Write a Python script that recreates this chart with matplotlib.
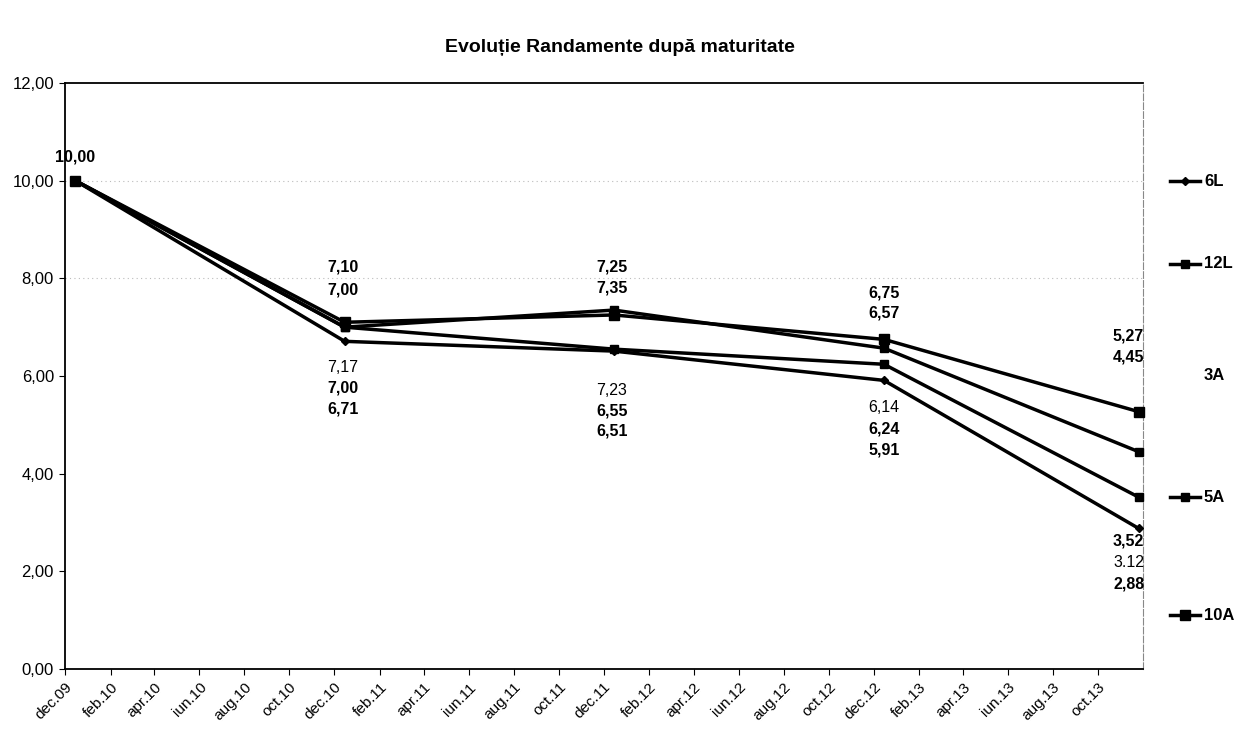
import matplotlib
matplotlib.use("Agg")
import matplotlib.pyplot as plt
from matplotlib.lines import Line2D
import datetime as dt

plt.rcParams['font.family'] = ['Liberation Sans', 'DejaVu Sans']

# ---- data ----
dates = ["2009-12-15", "2010-12-15", "2011-12-15", "2012-12-15", "2013-11-25"]
s_6L = [10.00, 6.71, 6.51, 5.91, 2.88]
s_12L = [10.00, 7.00, 7.35, 6.57, 4.45]
s_3A = [10.00, 7.17, 7.23, 6.14, 3.12]
s_5A = [10.00, 7.00, 6.55, 6.24, 3.52]
s_10A = [10.00, 7.10, 7.25, 6.75, 5.27]
series_names = ["6L", "12L", "3A", "5A", "10A"]
tick_labels = ["dec.09", "feb.10", "apr.10", "iun.10", "aug.10", "oct.10",
               "dec.10", "feb.11", "apr.11", "iun.11", "aug.11", "oct.11",
               "dec.11", "feb.12", "apr.12", "iun.12", "aug.12", "oct.12",
               "dec.12", "feb.13", "apr.13", "iun.13", "aug.13", "oct.13"]

x = [dt.datetime.strptime(d, "%Y-%m-%d") for d in dates]

fig = plt.figure(figsize=(12.4, 7.33), dpi=100)
ax = fig.add_axes([65/1240, 64/733, (1143-65)/1240, (669-83)/733])

styles = {
    "6L": dict(marker="D", ms=4.5, lw=2.5),
    "12L": dict(marker="s", ms=5.5, lw=2.5),
    "5A": dict(marker="s", ms=5.5, lw=2.5),
    "10A": dict(marker="s", ms=7.5, lw=2.5),
}
data = {"6L": s_6L, "12L": s_12L, "3A": s_3A, "5A": s_5A, "10A": s_10A}
for name in ["6L", "12L", "5A", "10A"]:
    st = styles[name]
    ax.plot(x, data[name], color="black", lw=st["lw"], marker=st["marker"],
            ms=st["ms"], mfc="black", mec="black", zorder=3, clip_on=False)

# axes
ax.set_ylim(0, 12)
ax.set_yticks(range(0, 13, 2))
ax.set_yticklabels([f"{v:.2f}".replace(".", ",") for v in range(0, 13, 2)], fontsize=12)
start = dt.datetime(2009, 12, 1)
ticks = []
y0, m0 = 2009, 12
for i in range(len(tick_labels)):
    mm = m0 + 2 * i
    yy = y0 + (mm - 1) // 12
    mm = (mm - 1) % 12 + 1
    ticks.append(dt.datetime(yy, mm, 1))
ax.set_xlim(start, dt.datetime(2013, 12, 1))
ax.set_xticks(ticks)
ax.set_xticklabels(tick_labels, rotation=45, ha="right", va="top",
                   rotation_mode="anchor", fontsize=11)
ax.tick_params(axis="x", length=4, pad=4)
ax.tick_params(axis="y", length=4, pad=4)
for sp in ["left", "bottom", "top"]:
    ax.spines[sp].set_linewidth(1.3)
ax.spines["right"].set_linestyle((0, (6, 2)))
ax.spines["right"].set_color("#888888")
ax.spines["right"].set_linewidth(0.8)
for yv in [10, 8]:
    ax.axhline(yv, color="#bbbbbb", lw=0.8, ls=(0, (1, 3)), zorder=1)

# data labels: (point index, anchor 'top'/'bottom', pixel offset, series, bold)
label_layout = [
    (0, "top", 24, "10A", True),
    (1, "top", 55, "10A", True), (1, "top", 32, "12L", True),
    (1, "bottom", -26, "3A", False), (1, "bottom", -47, "5A", True), (1, "bottom", -68, "6L", True),
    (2, "top", 43, "10A", True), (2, "top", 22, "12L", True),
    (2, "bottom", -39, "3A", False), (2, "bottom", -60, "5A", True), (2, "bottom", -80, "6L", True),
    (3, "top", 46, "10A", True), (3, "top", 26, "12L", True),
    (3, "bottom", -27, "3A", False), (3, "bottom", -49, "5A", True), (3, "bottom", -70, "6L", True),
    (4, "top", 76, "10A", True), (4, "top", 55, "12L", True),
    (4, "bottom", -13, "5A", True), (4, "bottom", -34, "3A", False), (4, "bottom", -56, "6L", True),
]
xoff = {0: 0, 1: -2, 2: -2, 3: 0, 4: -10}
visible = ["6L", "12L", "5A", "10A"]
for idx, anchor, off, name, bold in label_layout:
    vals = [data[n][idx] for n in visible]
    ay = max(vals) if anchor == "top" else min(vals)
    val = data[name][idx]
    txt = f"{val:.2f}"
    if not (idx == 4 and name == "3A"):
        txt = txt.replace(".", ",")
    ax.annotate(txt, xy=(x[idx], ay), xytext=(xoff[idx], off),
                textcoords="offset pixels", ha="center", va="center",
                fontsize=11.5, fontweight="bold" if bold else "normal",
                annotation_clip=False)

# legend (manual, right side)
leg_y = {"6L": 181, "12L": 264, "3A": 376, "5A": 497, "10A": 615}
for name in series_names:
    yf = 1 - leg_y[name] / 733
    if name in styles:
        st = styles[name]
        fig.add_artist(Line2D([1170/1240, 1200/1240], [yf, yf], color="black",
                              lw=st["lw"]))
        fig.add_artist(Line2D([1185/1240], [yf], color="black", marker=st["marker"],
                              ms=st["ms"], mfc="black", mec="black"))
    fig.text(1204/1240, yf, name, ha="left", va="center", fontsize=12,
             fontweight="bold")

fig.text(0.5, 1 - 47/733, "Evoluție Randamente după maturitate", ha="center",
         va="center", fontsize=14, fontweight="bold")

fig.savefig("out.png", dpi=100)
